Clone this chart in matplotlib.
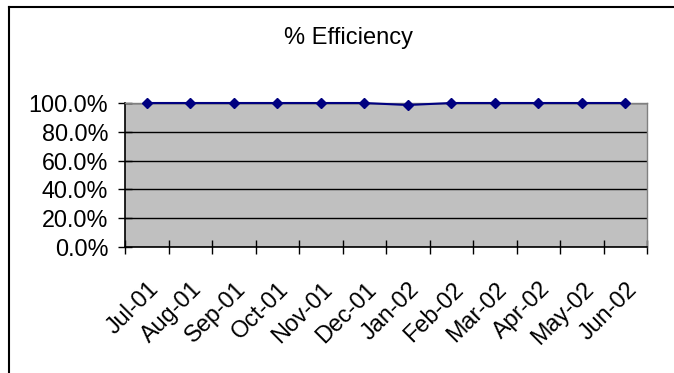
import matplotlib.pyplot as plt
from matplotlib.lines import Line2D
from matplotlib.ticker import FuncFormatter, MultipleLocator
from matplotlib.transforms import ScaledTranslation

months = ['Jul-01', 'Aug-01', 'Sep-01', 'Oct-01', 'Nov-01', 'Dec-01',
          'Jan-02', 'Feb-02', 'Mar-02', 'Apr-02', 'May-02', 'Jun-02']
efficiency = [1.0, 1.0, 1.0, 1.0, 1.0, 1.0, 0.986, 1.0, 1.0, 1.0, 1.0, 1.0]

plt.rcParams['font.family'] = ['Liberation Sans', 'DejaVu Sans']

W, H = 674, 373
fig = plt.figure(figsize=(W / 100, H / 100), dpi=100)

# outer chart border (only top and left visible)
fig.add_artist(Line2D([9 / W, 9 / W], [0, 1 - 7 / H], color='black', lw=1.5, transform=fig.transFigure))
fig.add_artist(Line2D([9 / W, 1], [1 - 7 / H, 1 - 7 / H], color='black', lw=1.5, transform=fig.transFigure))

fig.text(349 / W, 1 - 38 / H, '% Efficiency', ha='center', va='center', fontsize=17)

ax = fig.add_axes([125 / W, (H - 247) / H, 522 / W, 144 / H])
ax.set_facecolor('#c0c0c0')

x = list(range(len(months)))
ax.plot(x, efficiency, color='#000080', lw=1.5, marker='D', markersize=5.5, clip_on=False, zorder=3)

ax.set_xlim(-0.5, len(months) - 0.5)
ax.set_ylim(0, 1.0)
ax.yaxis.set_major_locator(MultipleLocator(0.2))
ax.yaxis.set_major_formatter(FuncFormatter(lambda v, p: f'{v * 100:.1f}%'))
ax.grid(axis='y', color='black', lw=1)
ax.set_axisbelow(True)

ax.set_xticks([i - 0.5 for i in range(len(months) + 1)], minor=False)
ax.set_xticklabels([])
ax.set_xticks(x, minor=True)
labels = ax.set_xticklabels(months, minor=True, rotation=45, ha='right', rotation_mode='anchor', fontsize=16.8)
shift = ScaledTranslation(-8 / 100, 0, fig.dpi_scale_trans)
for lab in labels:
    lab.set_transform(lab.get_transform() + shift)
ax.tick_params(axis='x', which='minor', length=0, pad=22)
ax.tick_params(axis='x', which='major', direction='inout', length=10, width=1)
ax.tick_params(axis='y', direction='inout', length=10, width=1, labelsize=16.8, pad=7)

for s in ['left', 'bottom']:
    ax.spines[s].set_color('black')
    ax.spines[s].set_linewidth(1.2)
for s in ['top', 'right']:
    ax.spines[s].set_color('#808080')
    ax.spines[s].set_linewidth(1)

fig.savefig('out.png', dpi=100)
